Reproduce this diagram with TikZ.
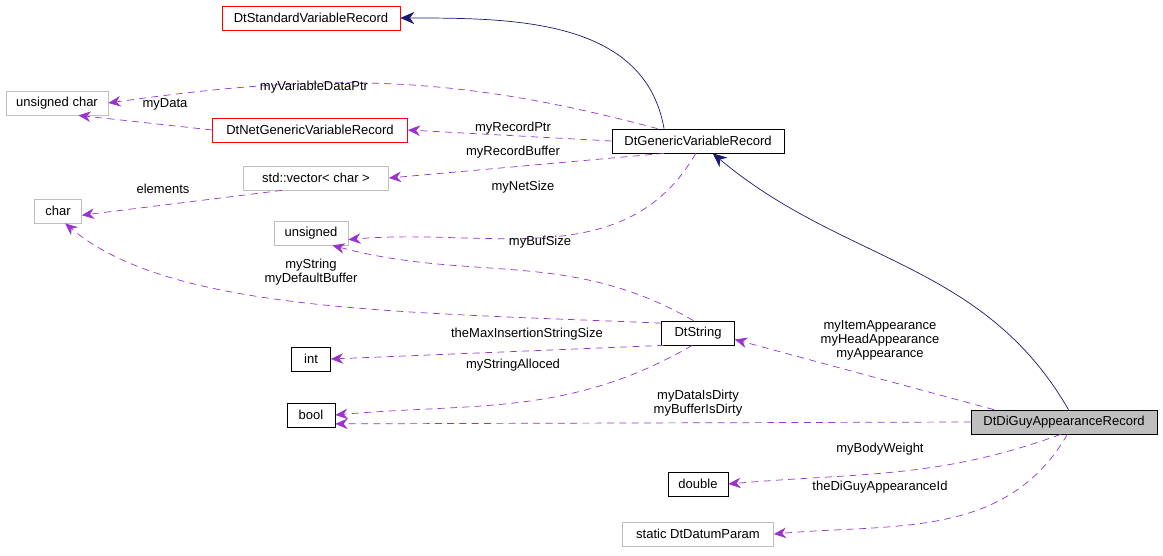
\documentclass[tikz,border=0pt]{standalone}
\usepackage{fontspec}
\setmainfont{Liberation Sans}
\usetikzlibrary{arrows.meta,positioning}
\definecolor{edgeColor}{HTML}{9A32CD}
\definecolor{inhColor}{HTML}{191970}
\definecolor{redBox}{HTML}{FF0000}
\definecolor{grayBox}{HTML}{BFBFBF}
\tikzset{
	cls/.style={draw, inner sep=2pt, minimum height=0.48cm, font=\fontsize{7.4}{8}\selectfont},
	clsred/.style={cls, draw=redBox},
	clsgray/.style={cls, draw=grayBox},
	clsmain/.style={cls, fill=grayBox},
	usage/.style={edgeColor, dash pattern=on 4pt off 3pt, -{Stealth[length=7pt,width=6pt]}},
	inherit/.style={inhColor, -{Stealth[length=8pt,width=7pt]}},
	lab/.style={font=\fontsize{7.4}{8}\selectfont, align=center, inner sep=1pt}
}
\begin{document}
\begin{tikzpicture}[x=0.02cm,y=-0.02cm]
	\useasboundingbox (0,0) rectangle (1163,555);
	\node[clsred, minimum width=3.56cm] (stdrec) at (311,18) {DtStandardVariableRecord};
	\node[clsgray, minimum width=2.04cm] (uchar) at (57,103) {unsigned char};
	\node[clsred, minimum width=3.9cm] (netrec) at (310,130) {DtNetGenericVariableRecord};
	\node[cls, minimum width=3.44cm] (genrec) at (698,141) {DtGenericVariableRecord};
	\node[clsgray, minimum width=2.9cm] (vec) at (316,178) {std::vector< char >};
	\node[clsgray, minimum width=0.94cm] (char) at (58,211) {char};
	\node[clsgray, minimum width=1.48cm] (uns) at (311,233) {unsigned};
	\node[cls, minimum width=1.46cm] (dtstr) at (698,333) {DtString};
	\node[cls, minimum width=0.78cm] (int) at (311,359) {int};
	\node[cls, minimum width=0.96cm] (bool) at (311,415) {bool};
	\node[clsmain, minimum width=3.72cm] (diguy) at (1064,422) {DtDiGuyAppearanceRecord};
	\node[cls, minimum width=1.2cm] (double) at (698,484) {double};
	\node[clsgray, minimum width=3.02cm] (datum) at (698,534) {static DtDatumParam};

	% inheritance
	\draw[inherit] (genrec.160) to[out=100,in=0] (stdrec.east);
	\draw[inherit] (diguy.70) to[out=120,in=-40] (genrec.-40);

	% usage
	\draw[usage] (genrec.163) to[out=165,in=8] (uchar.east);
	\draw[usage] (netrec.west) -- (uchar.-30);
	\draw[usage] (genrec.west) -- (netrec.east);
	\draw[usage] (genrec.200) -- (vec.east);
	\draw[usage] (vec.200) -- (char.-10);
	\draw[usage] (genrec.-100) to[out=-120,in=5] (uns.-10);
	\draw[usage] (dtstr.110) to[out=150,in=-15] (uns.-30);
	\draw[usage] (dtstr.165) .. controls (400,312) and (170,312) .. (char.-60);
	\draw[usage] (dtstr.200) -- (int.east);
	\draw[usage] (dtstr.-115) to[out=-150,in=5] (bool.east);
	\draw[usage] (diguy.170) -- (dtstr.-10);
	\draw[usage] (diguy.west) -- (bool.-20);
	\draw[usage] (diguy.-105) to[out=-160,in=5] (double.east);
	\draw[usage] (diguy.-75) to[out=-120,in=5] (datum.east);

	% labels
	\node[lab] (lVarData) at (314,87) {myVariableDataPtr};
	\node[lab] (lData) at (165,104) {myData};
	\node[lab] (lRecPtr) at (513,128) {myRecordPtr};
	\node[lab] (lRecBuf) at (513,152) {myRecordBuffer};
	\node[lab] (lElem) at (163,189) {elements};
	\node[lab] (lNet) at (523,187) {myNetSize};
	\node[lab] (lBuf) at (540,242) {myBufSize};
	\node[lab] (lStr) at (311,272) {myString\\myDefaultBuffer};
	\node[lab] (lMax) at (527,334) {theMaxInsertionStringSize};
	\node[lab] (lAlloc) at (513,365) {myStringAlloced};
	\node[lab] (lApp) at (880,340) {myItemAppearance\\myHeadAppearance\\myAppearance};
	\node[lab] (lDirty) at (698,403) {myDataIsDirty\\myBufferIsDirty};
	\node[lab] (lWeight) at (880,449) {myBodyWeight};
	\node[lab] (lId) at (880,487) {theDiGuyAppearanceId};
\end{tikzpicture}
\end{document}
